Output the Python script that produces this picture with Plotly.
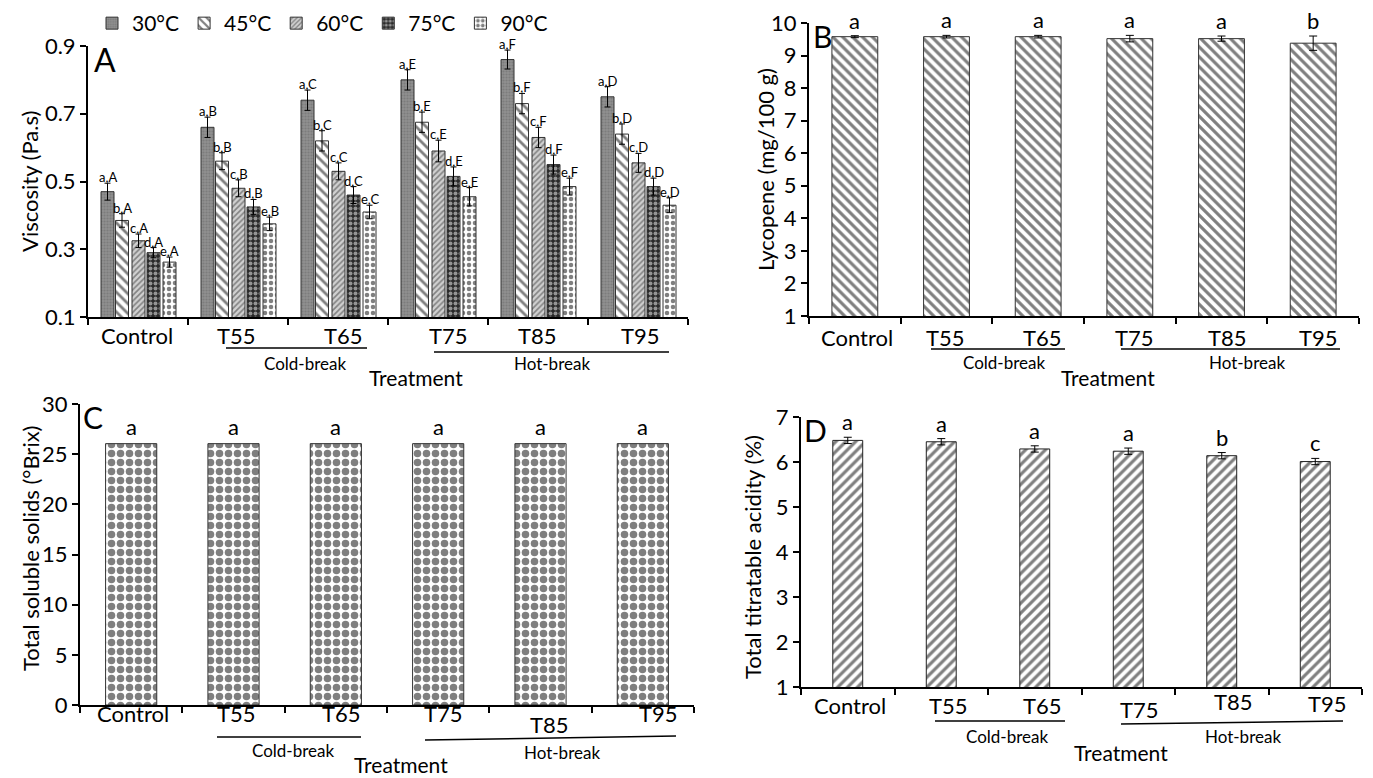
import plotly.graph_objects as go

# ---------------- data ----------------
categories = ["Control", "T55", "T65", "T75", "T85", "T95"]
temperatures = ["30°C", "45°C", "60°C", "75°C", "90°C"]

visc_30 = [0.47, 0.66, 0.74, 0.80, 0.86, 0.75]
visc_45 = [0.385, 0.56, 0.62, 0.675, 0.73, 0.64]
visc_60 = [0.325, 0.48, 0.53, 0.59, 0.63, 0.555]
visc_75 = [0.29, 0.425, 0.46, 0.515, 0.55, 0.485]
visc_90 = [0.262, 0.375, 0.41, 0.455, 0.485, 0.43]
visc_err_30 = [0.025, 0.03, 0.03, 0.03, 0.028, 0.03]
visc_err_45 = [0.02, 0.025, 0.03, 0.03, 0.03, 0.03]
visc_err_60 = [0.02, 0.025, 0.025, 0.032, 0.03, 0.028]
visc_err_75 = [0.015, 0.022, 0.025, 0.028, 0.028, 0.025]
visc_err_90 = [0.015, 0.02, 0.02, 0.027, 0.025, 0.022]
visc_lower = ["a", "b", "c", "d", "e"]
visc_upper = ["A", "B", "C", "E", "F", "D"]

lycopene = [9.58, 9.58, 9.58, 9.52, 9.52, 9.38]
lycopene_err = [0.03, 0.04, 0.04, 0.1, 0.08, 0.22]
lycopene_letters = ["a", "a", "a", "a", "a", "b"]

tss = [26.05, 26.05, 26.05, 26.05, 26.05, 26.05]
tss_letters = ["a", "a", "a", "a", "a", "a"]

tta = [6.48, 6.45, 6.29, 6.24, 6.14, 6.01]
tta_err = [0.07, 0.07, 0.07, 0.07, 0.07, 0.07]
tta_letters = ["a", "a", "a", "a", "b", "c"]

# ---------------- layout helpers ----------------
W, H = 1373, 778
FONT = "Lato, Open Sans, sans-serif"


def px(p):
    return p / W


def py(p):
    return 1 - p / H


fig = go.Figure()

visc_series = [visc_30, visc_45, visc_60, visc_75, visc_90]
visc_errs = [visc_err_30, visc_err_45, visc_err_60, visc_err_75, visc_err_90]
patterns = [
    dict(shape=".", fgcolor="#6a6a6a", bgcolor="#8f8f8f", size=3, solidity=0.4),
    dict(shape="\\", fgcolor="black", bgcolor="white", size=7, solidity=0.4),
    dict(shape="/", fgcolor="#333333", bgcolor="#d0d0d0", size=4, solidity=0.4),
    dict(shape=".", fgcolor="white", bgcolor="#2a2a2a", size=5, solidity=0.5),
    dict(shape=".", fgcolor="black", bgcolor="white", size=6, solidity=0.45),
]
bar_w = 0.13
offsets = [-0.37, -0.225, -0.06, 0.09, 0.25]

for k in range(5):
    fig.add_trace(go.Bar(
        x=categories, y=visc_series[k], name=temperatures[k],
        width=bar_w, offset=offsets[k],
        marker=dict(color="white", pattern=patterns[k],
                    line=dict(color="#333333", width=1)),
        error_y=dict(type="data", array=visc_errs[k], color="black",
                     thickness=1, width=3),
        xaxis="x", yaxis="y", showlegend=True,
    ))

fig.add_trace(go.Bar(
    x=categories, y=lycopene, width=0.5, showlegend=False,
    marker=dict(color="white",
                pattern=dict(shape="\\", fgcolor="black", bgcolor="white", size=7, solidity=0.45),
                line=dict(color="#333333", width=1)),
    error_y=dict(type="data", array=lycopene_err, color="black", thickness=1, width=4),
    xaxis="x2", yaxis="y2",
))

fig.add_trace(go.Bar(
    x=categories, y=tss, width=0.5, showlegend=False,
    marker=dict(color="white",
                pattern=dict(shape=".", fgcolor="black", bgcolor="white", size=9, solidity=0.55),
                line=dict(color="#333333", width=1)),
    xaxis="x3", yaxis="y3",
))

fig.add_trace(go.Bar(
    x=categories, y=tta, width=0.32, showlegend=False,
    marker=dict(color="white",
                pattern=dict(shape="/", fgcolor="black", bgcolor="white", size=7, solidity=0.45),
                line=dict(color="#222222", width=1)),
    error_y=dict(type="data", array=tta_err, color="black", thickness=1, width=4),
    xaxis="x4", yaxis="y4",
))

axis_common = dict(showline=True, linecolor="black", linewidth=2, ticks="outside",
                   ticklen=6, tickwidth=2, tickcolor="black", showgrid=False,
                   zeroline=False, automargin=False,
                   tickfont=dict(family=FONT, size=22, color="black"))
xcat = dict(type="category", categoryorder="array", categoryarray=categories,
            range=[-0.5, 5.5], tickson="boundaries", showticklabels=False)

fig.update_layout(
    width=W, height=H, autosize=False,
    margin=dict(l=0, r=0, t=0, b=0, pad=0, autoexpand=False),
    paper_bgcolor="white", plot_bgcolor="white",
    barmode="overlay",
    font=dict(family=FONT, color="black"),
    xaxis=dict(domain=[px(88), px(688)], anchor="y", **xcat, **axis_common),
    yaxis=dict(domain=[py(317), py(46)], anchor="x", range=[0.1, 0.9],
               tickvals=[0.1, 0.3, 0.5, 0.7, 0.9], **axis_common),
    xaxis2=dict(domain=[px(809), px(1359)], anchor="y2", **xcat, **axis_common),
    yaxis2=dict(domain=[py(316), py(23)], anchor="x2", range=[1, 10], dtick=1,
                **axis_common),
    xaxis3=dict(domain=[px(80), px(694)], anchor="y3", **xcat, **axis_common),
    yaxis3=dict(domain=[py(705), py(404)], anchor="x3", range=[0, 30], dtick=5,
                **axis_common),
    xaxis4=dict(domain=[px(801), px(1362)], anchor="y4", **xcat, **axis_common),
    yaxis4=dict(domain=[py(687), py(417)], anchor="x4", range=[1, 7], dtick=1,
                **axis_common),
    legend=dict(orientation="h", x=px(92), y=py(3), xanchor="left", yanchor="top",
                font=dict(family=FONT, size=21, color="black"),
                itemwidth=30, bgcolor="rgba(0,0,0,0)", tracegroupgap=0,
                itemclick=False),
)

ann = []


def text(x, y, s, size, xref="paper", yref="paper", angle=0,
         xanchor="center", yanchor="middle", **kw):
    ann.append(dict(x=x, y=y, xref=xref, yref=yref, text=s, showarrow=False,
                    textangle=angle, xanchor=xanchor, yanchor=yanchor,
                    font=dict(family=FONT, size=size, color="black"), **kw))


# letters in panel A
for k in range(5):
    for i in range(6):
        text(i + offsets[k] + bar_w / 2, visc_series[k][i] + visc_errs[k][i],
             f"{visc_lower[k]},{visc_upper[i]}", 13, xref="x", yref="y",
             yanchor="bottom", yshift=-4)

for i in range(6):
    text(i, lycopene[i] + lycopene_err[i], lycopene_letters[i], 22, xref="x2", yref="y2",
         yanchor="bottom", yshift=0)
    text(i, tss[i], tss_letters[i], 22, xref="x3", yref="y3", yanchor="bottom", yshift=2)
    text(i, tta[i] + tta_err[i], tta_letters[i], 22, xref="x4", yref="y4",
         yanchor="bottom", yshift=0)

# category labels (positions tuned to the reference)
lab_dx = {
    "x": [-0.01, -0.02, 0.05, 0.10, -0.01, 0.02],
    "x2": [0.02, -0.01, 0.05, 0.05, 0.06, 0.06],
    "x3": [0.02, 0.03, 0.06, 0.05, 0.09, 0.15],
    "x4": [0.02, 0.08, 0.08, 0.12, 0.13, 0.13],
}
lab_y = {
    "x": [335] * 6,
    "x2": [337] * 6,
    "x3": [713, 713, 713, 713, 724, 713],
    "x4": [705, 705, 705, 709, 701, 703],
}
for xr in ["x", "x2", "x3", "x4"]:
    for i, c in enumerate(categories):
        text(i + lab_dx[xr][i], py(lab_y[xr][i]), c, 22, xref=xr)

# group captions & lines
groups = [
    dict(cold=(226, 348, 367, 348), hot=(434, 352, 669, 352),
         ct=(305, 363), ht=(552, 363), tr=(416, 377)),
    dict(cold=(931, 349, 1065, 349), hot=(1121, 349, 1340, 349),
         ct=(1004, 362), ht=(1247, 362), tr=(1108, 377)),
    dict(cold=(217, 737, 361, 737), hot=(425, 740, 676, 736),
         ct=(293, 750), ht=(562, 752), tr=(401, 764)),
    dict(cold=(935, 721, 1065, 721), hot=(1121, 724, 1343, 721),
         ct=(1007, 736), ht=(1243, 736), tr=(1121, 752)),
]
shapes = []
for g in groups:
    for key in ["cold", "hot"]:
        x0, y0, x1, y1 = g[key]
        shapes.append(dict(type="line", xref="paper", yref="paper",
                           x0=px(x0), y0=py(y0), x1=px(x1), y1=py(y1),
                           line=dict(color="black", width=1.5)))
    text(px(g["ct"][0]), py(g["ct"][1]), "Cold-break", 17)
    text(px(g["ht"][0]), py(g["ht"][1]), "Hot-break", 17)
    text(px(g["tr"][0]), py(g["tr"][1]), "Treatment", 21)

# axis titles
text(px(30), py(182), "Viscosity (Pa.s)", 22, angle=-90)
text(px(765), py(170), "Lycopene (mg/100 g)", 22, angle=-90)
text(px(30), py(548), "Total soluble solids (°Brix)", 22, angle=-90)
text(px(752), py(557), "Total titratable acidity (%)", 22, angle=-90)

# panel letters
text(px(105), py(60), "A", 32)
text(px(823), py(36), "B", 30)
text(px(93), py(417), "C", 30)
text(px(815), py(430), "D", 30)

fig.update_layout(annotations=ann, shapes=shapes)
fig.write_html(
    "out.html",
    config={"displayModeBar": False},
    post_script="document.body.style.margin='0';document.body.style.overflow='hidden';",
)
